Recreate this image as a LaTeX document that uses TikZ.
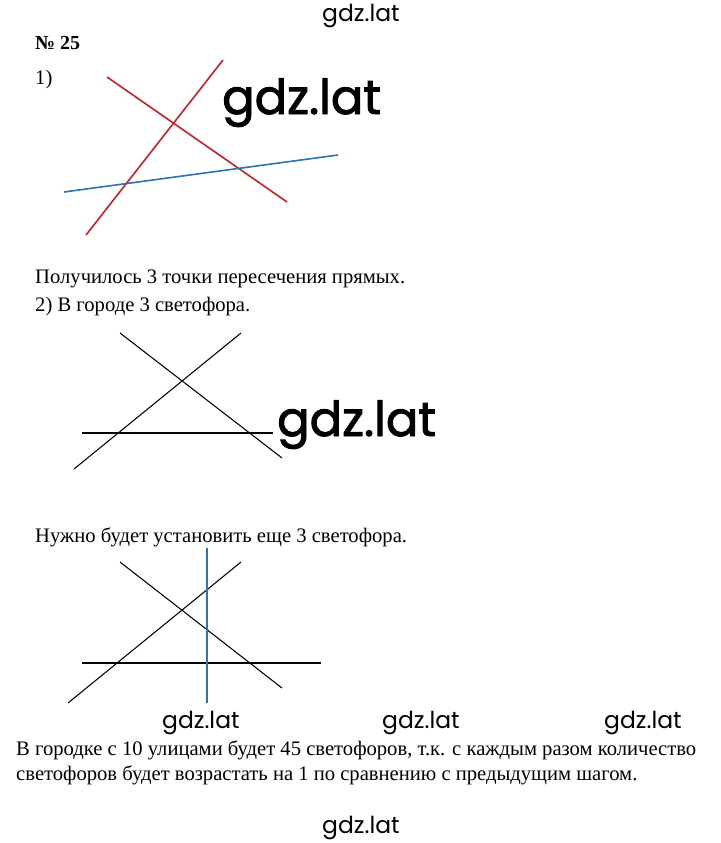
\documentclass[tikz,border=0pt]{standalone}
\usepackage{fontspec}
\setmainfont{Liberation Serif}
\newfontfamily\wmfont{Poppins}
\newfontfamily\wmheavy{Poppins}[FakeBold=2]
\usepackage{tikz}
\definecolor{linered}{HTML}{C4262E}
\definecolor{lineblue}{HTML}{2E75B6}
\tikzset{
  txt/.style={anchor=base west, inner sep=0pt, font=\fontsize{17.6}{21}\selectfont},
  wm/.style={anchor=base west, inner sep=0pt, font=\wmfont\fontsize{20}{23}\selectfont},
  wmbig/.style={anchor=base west, inner sep=0pt, font=\wmheavy\fontsize{41}{46}\selectfont},
  street/.style={black, line width=0.9pt},
}
\begin{document}
\begin{tikzpicture}[x=0.03cm, y=-0.03cm]
            \useasboundingbox (0,0) rectangle (720,843);
            % watermarks
            \node[wm] (wmtop) at (322,22) {gdz.lat};
            \node[wmbig] (wmone) at (222,114) {gdz.lat};
            \node[wmbig] (wmtwo) at (277,436) {gdz.lat};
            \node[wm] (wmrowa) at (162,728) {gdz.lat};
            \node[wm] (wmrowb) at (382,728) {gdz.lat};
            \node[wm] (wmrowc) at (604,728) {gdz.lat};
            \node[wm] (wmbottom) at (322,833) {gdz.lat};
            % texts
            \node[txt, font=\bfseries\fontsize{17}{20}\selectfont] (num) at (35,50) {№ 25};
            \node[txt] (parta) at (35,85) {1)};
            \node[txt] (resulta) at (35,283) {Получилось 3 точки пересечения прямых.};
            \node[txt] (partb) at (35,311) {2) В городе 3 светофора.};
            \node[txt] (needb) at (35,542) {Нужно будет установить еще 3 светофора.};
            \node[txt] (answa) at (16,755) {В городке с 10 улицами будет 45 светофоров, т.к. с каждым разом количество};
            \node[txt] (answb) at (16,780) {светофоров будет возрастать на 1 по сравнению с предыдущим шагом.};
            % 1) three lines
            \draw[linered, line width=1.4pt] (107,77) -- (287,202);
            \draw[linered, line width=1.4pt] (86,235) -- (223,60);
            \draw[lineblue, line width=1.4pt] (64,192) -- (338,155);
            % 2) three streets
            \draw[street] (120,333) -- (282,458);
            \draw[street] (74,469) -- (241,333);
            \draw[street] (82,433) -- (273,433);
            % fourth street
            \draw[street] (120,562) -- (282,688);
            \draw[street] (68,703) -- (241,562);
            \draw[street] (82,663) -- (321,663);
            \draw[lineblue, line width=1.4pt] (207,548) -- (207,703);
        \end{tikzpicture}
\end{document}
